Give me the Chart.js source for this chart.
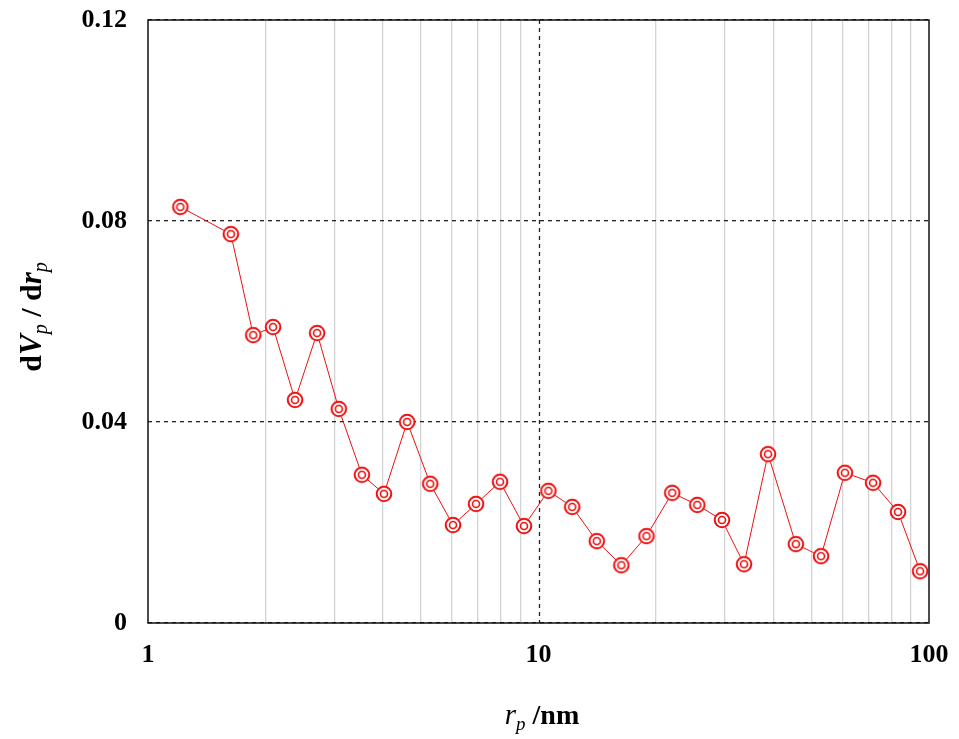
<!DOCTYPE html>
<html>
<head>
<meta charset="utf-8">
<title>Pore size distribution</title>
<script src="https://cdn.jsdelivr.net/npm/chart.js@4.4.1/dist/chart.umd.min.js"></script>
<style>
  html, body { margin: 0; padding: 0; background: #fff; }
</style>
</head>
<body>
<canvas id="psd" width="959" height="739"></canvas>
<script>
// pore radius r_p (nm) and dV_p/dr_p
const radius = [1.21, 1.63, 1.86, 2.09, 2.38, 2.71, 3.08, 3.53, 4.02, 4.61,
                5.28, 6.04, 6.92, 7.97, 9.18, 10.6, 12.2, 14.1, 16.3, 18.9,
                22.0, 25.5, 29.5, 33.6, 38.7, 45.6, 52.9, 60.9, 71.9, 83.3, 94.9];
const dvdr = [0.0828, 0.0774, 0.0573, 0.0589, 0.0444, 0.0577, 0.0426, 0.0295, 0.0257, 0.0400,
              0.0277, 0.0195, 0.0237, 0.0281, 0.0193, 0.0263, 0.0231, 0.0163, 0.0115, 0.0173,
              0.0259, 0.0235, 0.0205, 0.0117, 0.0336, 0.0157, 0.0133, 0.0299, 0.0279, 0.0221, 0.0103];

const xTicks = [1, 2, 3, 4, 5, 6, 7, 8, 9, 10, 20, 30, 40, 50, 60, 70, 80, 90, 100];
const xLabels = [1, 10, 100];
const yTicks = [0, 0.04, 0.08, 0.12];
const xRefLines = [10];

const RED = '#ee1010';
const FONT = '"Liberation Serif", "Times New Roman", serif';

// double-ring marker
function ringMarker() {
  const c = document.createElement('canvas');
  c.width = 20; c.height = 20;
  const g = c.getContext('2d');
  g.fillStyle = '#fff';
  g.beginPath(); g.arc(10, 10, 8, 0, Math.PI * 2); g.fill();
  g.strokeStyle = RED;
  g.lineWidth = 2;
  g.beginPath(); g.arc(10, 10, 7.3, 0, Math.PI * 2); g.stroke();
  g.lineWidth = 1.6;
  g.beginPath(); g.arc(10, 10, 3.5, 0, Math.PI * 2); g.stroke();
  return c;
}

const frameAndRefs = {
  id: 'frameAndRefs',
  beforeDatasetsDraw(chart) {
    const { ctx, chartArea: a, scales } = chart;
    ctx.save();
    ctx.strokeStyle = '#222';
    ctx.lineWidth = 1.3;
    ctx.setLineDash([4, 4]);
    xRefLines.forEach(v => {
      const px = Math.round(scales.x.getPixelForValue(v)) + 0.5;
      ctx.beginPath(); ctx.moveTo(px, a.top); ctx.lineTo(px, a.bottom); ctx.stroke();
    });
    ctx.setLineDash([]);
    ctx.strokeStyle = '#111';
    ctx.lineWidth = 1.5;
    ctx.strokeRect(a.left, a.top, a.right - a.left, a.bottom - a.top);
    ctx.restore();
  },
  afterDraw(chart) {
    const { ctx } = chart;
    ctx.save();
    ctx.fillStyle = '#000';
    ctx.textBaseline = 'alphabetic';

    // runs of [text, font, baseline shift]
    const drawRuns = (runs, cx, cy) => {
      let w = 0;
      runs.forEach(r => { ctx.font = r[1]; w += ctx.measureText(r[0]).width; });
      let x = cx - w / 2;
      runs.forEach(r => {
        ctx.font = r[1];
        ctx.fillText(r[0], x, cy + r[2]);
        x += ctx.measureText(r[0]).width;
      });
    };

    // x title
    drawRuns([
      ['r', 'italic 29px ' + FONT, 0],
      ['p', 'italic 19px ' + FONT, 6],
      [' /nm', 'bold 28px ' + FONT, 0]
    ], 542, 724);

    // y title
    ctx.translate(41, 317);
    ctx.rotate(-Math.PI / 2);
    drawRuns([
      ['d', 'bold 30px ' + FONT, 0],
      ['V', 'bold italic 31px ' + FONT, 0],
      ['p', 'italic 20px ' + FONT, 6],
      [' / d', 'bold 30px ' + FONT, 0],
      ['r', 'bold italic 31px ' + FONT, 0],
      ['p', 'italic 20px ' + FONT, 6]
    ], 0, 0);
    ctx.restore();
  }
};

new Chart(document.getElementById('psd'), {
  type: 'line',
  data: {
    datasets: [{
      data: radius.map((r, i) => ({ x: r, y: dvdr[i] })),
      borderColor: RED,
      borderWidth: 1,
      pointStyle: ringMarker(),
      pointRadius: 8,
      tension: 0
    }]
  },
  options: {
    responsive: false,
    animation: false,
    layout: { padding: { top: 20, right: 30, left: 0, bottom: 0 } },
    plugins: { legend: { display: false }, tooltip: { enabled: false } },
    scales: {
      x: {
        type: 'logarithmic',
        min: 1,
        max: 100,
        afterBuildTicks(scale) { scale.ticks = xTicks.map(v => ({ value: v })); },
        afterFit(scale) {
          scale.height = 116;
          scale.paddingLeft = 0;
          scale.paddingRight = 0;
        },
        grid: {
          drawTicks: false,
          color: ctx => (ctx.tick && (xRefLines.includes(ctx.tick.value) || ctx.tick.value === 1 || ctx.tick.value === 100)) ? 'rgba(0,0,0,0)' : '#d4d4d4',
          lineWidth: 1.3
        },
        border: { display: false },
        ticks: {
          autoSkip: false,
          maxRotation: 0,
          padding: 17,
          color: '#000',
          font: { family: FONT, size: 26, weight: 'bold' },
          callback: v => xLabels.includes(v) ? String(v) : ''
        }
      },
      y: {
        min: 0,
        max: 0.12,
        afterBuildTicks(scale) { scale.ticks = yTicks.map(v => ({ value: v })); },
        afterFit(scale) {
          scale.width = 148;
          scale.paddingTop = 0;
          scale.paddingBottom = 0;
        },
        grid: { drawTicks: false, color: '#222', lineWidth: 1.3 },
        border: { display: false, dash: [4, 4] },
        ticks: {
          padding: 21,
          color: '#000',
          font: { family: FONT, size: 26, weight: 'bold' },
          callback: v => v === 0 ? '0' : v.toFixed(2)
        }
      }
    }
  },
  plugins: [frameAndRefs]
});
</script>
</body>
</html>
